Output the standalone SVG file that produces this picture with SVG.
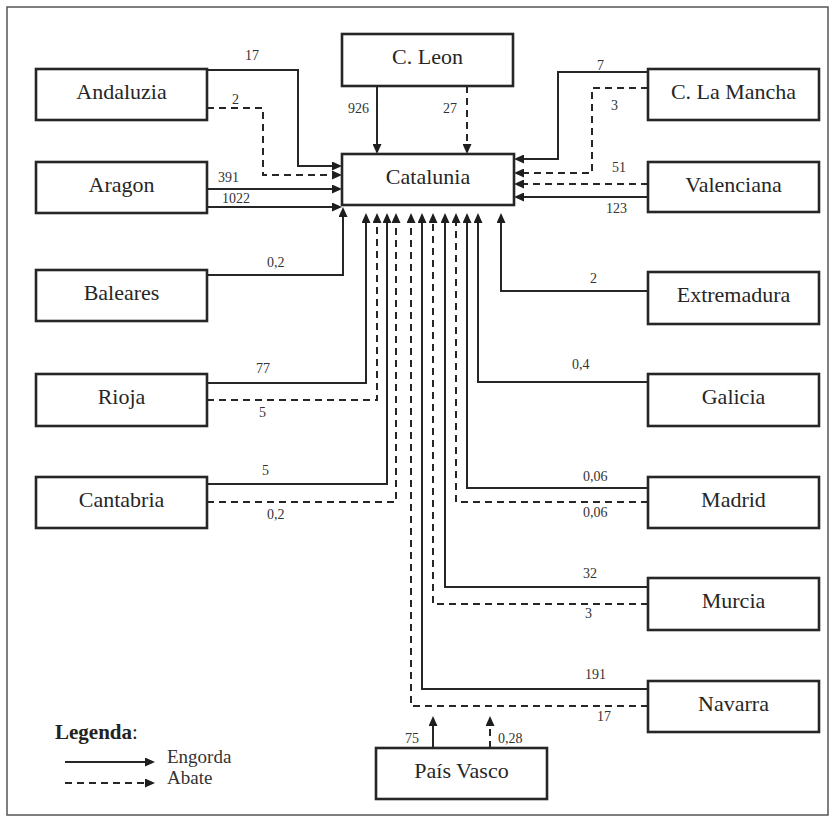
<svg xmlns="http://www.w3.org/2000/svg" width="835" height="822" viewBox="0 0 835 822">
<defs>
<marker id="ah" viewBox="0 0 10 9" refX="8" refY="4.5" markerWidth="10" markerHeight="9" markerUnits="userSpaceOnUse" orient="auto">
<path d="M0,0 L10,4.5 L0,9 z" fill="#1e1e1e"/>
</marker>
<style>
.box{fill:#fff;stroke:#262626;stroke-width:2.6}
.lbl{font-family:"Liberation Serif","Times New Roman",serif;font-size:22px;fill:#262626;text-anchor:middle}
.num{font-family:"Liberation Serif","Times New Roman",serif;font-size:14px;fill:#333}
.s{fill:none;stroke:#262626;stroke-width:2;marker-end:url(#ah)}
.d{fill:none;stroke:#262626;stroke-width:2;stroke-dasharray:7,5;marker-end:url(#ah)}
</style>
</defs>
<rect x="7" y="7" width="821" height="808" fill="#fff" stroke="#555" stroke-width="1.5"/>

<g id="connectors">
<path class="s" d="M207,70 H298 V166 H340"/>
<path class="d" d="M207,108 H263 V175 H340"/>
<path class="s" d="M207,189 H340"/>
<path class="s" d="M207,207 H340"/>
<path class="s" d="M207,275 H343 V209"/>
<path class="s" d="M377,86 V152"/>
<path class="d" d="M467,86 V152"/>
<path class="s" d="M648,72 H558 V159 H516"/>
<path class="d" d="M648,88 H592 V173 H516"/>
<path class="d" d="M648,184 H516"/>
<path class="s" d="M648,197 H516"/>
<path class="s" d="M207,383 H366 V215"/>
<path class="d" d="M207,400 H377 V215"/>
<path class="s" d="M207,484 H387 V215"/>
<path class="d" d="M207,502 H396 V215"/>
<path class="d" d="M648,706 H411 V215"/>
<path class="s" d="M648,689 H422 V215"/>
<path class="d" d="M648,604 H433 V215"/>
<path class="s" d="M648,587 H445 V215"/>
<path class="d" d="M648,502 H456 V215"/>
<path class="s" d="M648,488 H467 V215"/>
<path class="s" d="M648,382 H478 V215"/>
<path class="s" d="M648,291 H501 V215"/>
<path class="s" d="M433,748 V718"/>
<path class="d" d="M490,748 V718"/>
<g class="num">
<text x="245" y="60">17</text>
<text x="232" y="104">2</text>
<text x="218" y="182">391</text>
<text x="222" y="203">1022</text>
<text x="267" y="267">0,2</text>
<text x="348" y="113">926</text>
<text x="443" y="113">27</text>
<text x="597" y="70">7</text>
<text x="611" y="110">3</text>
<text x="612" y="172">51</text>
<text x="606" y="213">123</text>
<text x="256" y="373">77</text>
<text x="259" y="417">5</text>
<text x="262" y="475">5</text>
<text x="267" y="519">0,2</text>
<text x="590" y="283">2</text>
<text x="572" y="369">0,4</text>
<text x="583" y="481">0,06</text>
<text x="583" y="517">0,06</text>
<text x="583" y="578">32</text>
<text x="585" y="618">3</text>
<text x="585" y="679">191</text>
<text x="597" y="721">17</text>
<text x="405" y="743">75</text>
<text x="498" y="743">0,28</text>
</g>
</g>

<g id="catalunia"><rect class="box" x="342" y="154" width="172" height="51"/><text class="lbl" x="428" y="184">Catalunia</text></g>
<g id="cleon"><rect class="box" x="342" y="34" width="171" height="52"/><text class="lbl" x="427.5" y="64">C. Leon</text></g>
<g id="andaluzia"><rect class="box" x="36" y="69" width="171" height="51"/><text class="lbl" x="121.5" y="99">Andaluzia</text></g>
<g id="aragon"><rect class="box" x="36" y="162" width="171" height="51"/><text class="lbl" x="121.5" y="192">Aragon</text></g>
<g id="baleares"><rect class="box" x="36" y="270" width="171" height="51"/><text class="lbl" x="121.5" y="300">Baleares</text></g>
<g id="rioja"><rect class="box" x="36" y="374" width="171" height="52"/><text class="lbl" x="121.5" y="404">Rioja</text></g>
<g id="cantabria"><rect class="box" x="36" y="477" width="171" height="51"/><text class="lbl" x="121.5" y="507">Cantabria</text></g>
<g id="clamancha"><rect class="box" x="648" y="69" width="171" height="51"/><text class="lbl" x="733.5" y="99">C. La Mancha</text></g>
<g id="valenciana"><rect class="box" x="648" y="162" width="171" height="50"/><text class="lbl" x="733.5" y="192">Valenciana</text></g>
<g id="extremadura"><rect class="box" x="648" y="272" width="171" height="52"/><text class="lbl" x="733.5" y="302">Extremadura</text></g>
<g id="galicia"><rect class="box" x="648" y="374" width="171" height="52"/><text class="lbl" x="733.5" y="404">Galicia</text></g>
<g id="madrid"><rect class="box" x="648" y="477" width="171" height="51"/><text class="lbl" x="733.5" y="507">Madrid</text></g>
<g id="murcia"><rect class="box" x="648" y="578" width="171" height="52"/><text class="lbl" x="733.5" y="608">Murcia</text></g>
<g id="navarra"><rect class="box" x="648" y="681" width="171" height="51"/><text class="lbl" x="733.5" y="711">Navarra</text></g>
<g id="paisvasco"><rect class="box" x="376" y="748" width="171" height="51"/><text class="lbl" x="461.5" y="778">País Vasco</text></g>

<g id="legend">
<text x="55" y="739" font-family="'Liberation Serif','Times New Roman',serif" font-size="21" fill="#222"><tspan font-weight="bold">Legenda</tspan>:</text>
<path class="s" d="M65,762 H153"/>
<path class="d" d="M65,783 H153"/>
<text x="167" y="763" font-family="'Liberation Serif','Times New Roman',serif" font-size="19" fill="#333">Engorda</text>
<text x="167" y="784" font-family="'Liberation Serif','Times New Roman',serif" font-size="19" fill="#333">Abate</text>
</g>
</svg>
